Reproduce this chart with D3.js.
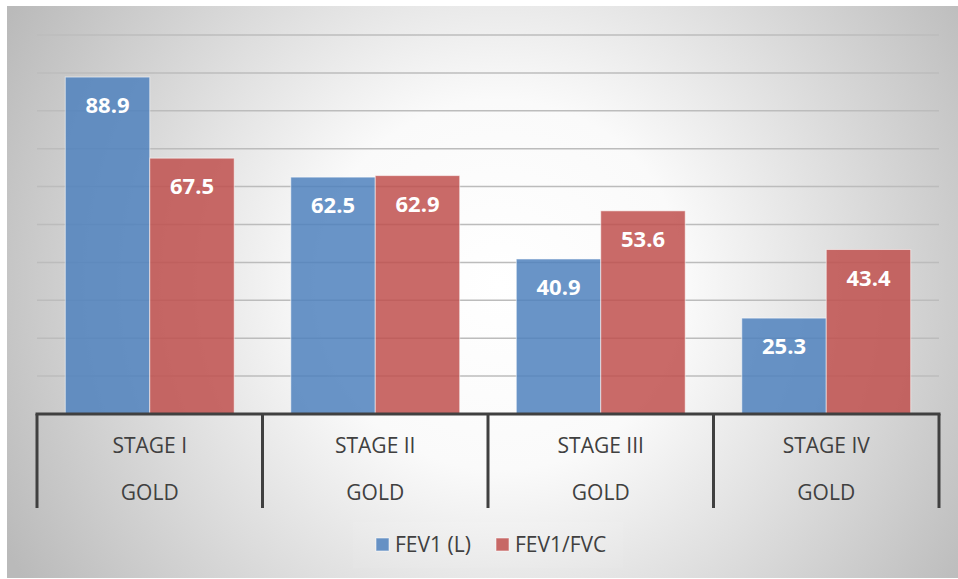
<!DOCTYPE html>
<html>
<head>
<meta charset="utf-8">
<script src="https://cdn.jsdelivr.net/npm/d3@7"></script>
<style>
  html, body { margin: 0; padding: 0; background: #ffffff; }
  svg { display: block; }
</style>
</head>
<body>
<svg id="chart" width="958" height="579"></svg>
<script>
// Chart data
const stages = ["STAGE I", "STAGE II", "STAGE III", "STAGE IV"];
const stageGroup = ["GOLD", "GOLD", "GOLD", "GOLD"];
const seriesNames = ["FEV1 (L)", "FEV1/FVC"];
const fev1 = [88.9, 62.5, 40.9, 25.3];
const fev1fvc = [67.5, 62.9, 53.6, 43.4];
const gridTicks = [10, 20, 30, 40, 50, 60, 70, 80, 90, 100];
const seriesColors = ["#4F81BD", "#C0504D"];

const seriesValues = [fev1, fev1fvc];
const rows = stages.map((s, i) => ({
  stage: s,
  group: stageGroup[i],
  values: seriesNames.map((n, k) => ({ name: n, value: seriesValues[k][i], color: seriesColors[k] }))
}));

const svg = d3.select("#chart");
const W = 958, H = 579;
const plot = { left: 37, right: 939, top: 35, bottom: 414 };

// Background panel with radial shading
const defs = svg.append("defs");
const grad = defs.append("radialGradient")
  .attr("id", "bg")
  .attr("gradientUnits", "userSpaceOnUse")
  .attr("cx", 500).attr("cy", 285).attr("r", 560);
grad.append("stop").attr("offset", 0).attr("stop-color", "#ffffff");
grad.append("stop").attr("offset", 0.33).attr("stop-color", "#fafafa");
grad.append("stop").attr("offset", 1).attr("stop-color", "#bababa");

svg.append("rect")
  .attr("x", 7).attr("y", 6)
  .attr("width", W - 7).attr("height", 572)
  .attr("fill", "url(#bg)");

const x = d3.scaleBand().domain(stages).range([plot.left, plot.right]).paddingInner(0).paddingOuter(0);
const xs = d3.scaleBand().domain(seriesNames).range([0, x.bandwidth()]).paddingInner(0).paddingOuter(0.335);
const y = d3.scaleLinear().domain([0, 100]).range([plot.bottom, plot.top]);

// Horizontal gridlines
svg.append("g")
  .selectAll("line")
  .data(gridTicks)
  .join("line")
  .attr("x1", plot.left).attr("x2", plot.right)
  .attr("y1", d => y(d)).attr("y2", d => y(d))
  .attr("stroke", "#bcbcbc")
  .attr("stroke-width", 1.5);

// Bars
const groups = svg.append("g")
  .selectAll("g")
  .data(rows)
  .join("g")
  .attr("transform", d => `translate(${x(d.stage)},0)`);

groups.selectAll("rect")
  .data(d => d.values)
  .join("rect")
  .attr("x", d => xs(d.name))
  .attr("y", d => y(d.value))
  .attr("width", xs.bandwidth())
  .attr("height", d => y(0) - y(d.value))
  .attr("fill", d => d.color)
  .attr("fill-opacity", 0.85)
  .attr("stroke", "#ffffff")
  .attr("stroke-opacity", 0.55)
  .attr("stroke-width", 1);

// Value labels inside bars
groups.selectAll("text")
  .data(d => d.values)
  .join("text")
  .attr("x", d => xs(d.name) + xs.bandwidth() / 2)
  .attr("y", d => y(d.value) + 36)
  .attr("text-anchor", "middle")
  .attr("font-family", "'Open Sans', sans-serif")
  .attr("font-weight", 700)
  .attr("font-size", 22)
  .attr("fill", "#ffffff")
  .text(d => d.value.toFixed(1));

// Category axis: baseline and divider ticks
const axisG = svg.append("g");
axisG.append("line")
  .attr("x1", plot.left - 1.5).attr("x2", plot.right + 1.5)
  .attr("y1", plot.bottom).attr("y2", plot.bottom)
  .attr("stroke", "#404040").attr("stroke-width", 3);

const dividers = stages.map(s => x(s)).concat([x(stages[stages.length - 1]) + x.bandwidth()]);
axisG.selectAll("line.div")
  .data(dividers)
  .join("line")
  .attr("class", "div")
  .attr("x1", d => d).attr("x2", d => d)
  .attr("y1", plot.bottom).attr("y2", 508)
  .attr("stroke", "#404040").attr("stroke-width", 3);

axisG.selectAll("text.stage")
  .data(rows)
  .join("text")
  .attr("class", "stage")
  .attr("x", d => x(d.stage) + x.bandwidth() / 2)
  .attr("y", 453)
  .attr("text-anchor", "middle")
  .attr("font-family", "'Open Sans', sans-serif")
  .attr("font-size", 21)
  .attr("fill", "#404040")
  .text(d => d.stage);

axisG.selectAll("text.group")
  .data(rows)
  .join("text")
  .attr("class", "group")
  .attr("x", d => x(d.stage) + x.bandwidth() / 2)
  .attr("y", 500)
  .attr("text-anchor", "middle")
  .attr("font-family", "'Open Sans', sans-serif")
  .attr("font-size", 21)
  .attr("fill", "#404040")
  .text(d => d.group);

// Legend
const legend = svg.append("g");
legend.append("rect")
  .attr("x", 353).attr("y", 522).attr("width", 270).attr("height", 46)
  .attr("fill", "#ffffff").attr("fill-opacity", 0.07);

const legendX = [376, 496];
const items = legend.selectAll("g")
  .data(seriesNames.map((n, k) => ({ name: n, color: seriesColors[k], x: legendX[k] })))
  .join("g")
  .attr("transform", d => `translate(${d.x},538)`);
items.append("rect")
  .attr("width", 13).attr("height", 13)
  .attr("fill", d => d.color).attr("fill-opacity", 0.85)
  .attr("stroke", "#ffffff").attr("stroke-opacity", 0.55);
items.append("text")
  .attr("x", 19).attr("y", 13.5)
  .attr("font-family", "'Open Sans', sans-serif")
  .attr("font-size", 21)
  .attr("fill", "#404040")
  .text(d => d.name);
</script>
</body>
</html>
